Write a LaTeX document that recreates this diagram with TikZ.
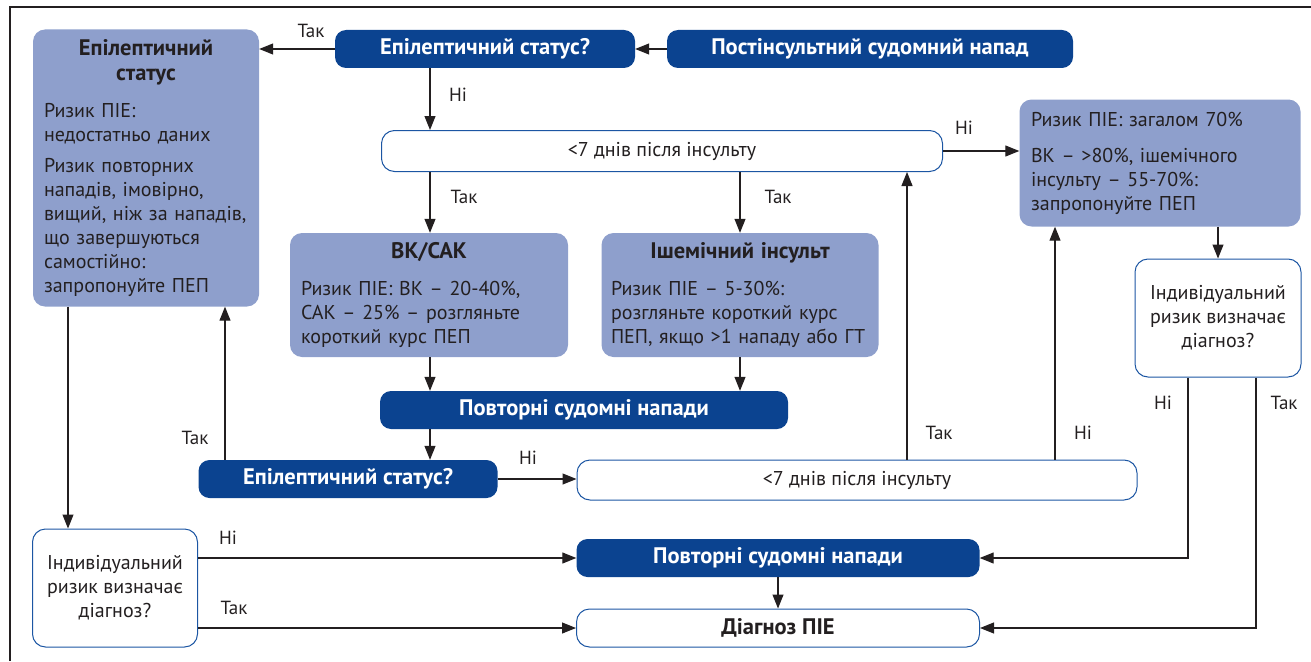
\documentclass[tikz,border=0pt]{standalone}
\usepackage{fontspec}
\setmainfont{PT Sans}
\usetikzlibrary{arrows.meta}
\definecolor{pieblue}{HTML}{0B4390}
\definecolor{pielight}{HTML}{8E9FCC}
\definecolor{pieline}{HTML}{1C56A3}
\definecolor{pieink}{HTML}{231F20}
\newcommand{\bodyfont}{\fontsize{20}{24}\selectfont}
\newcommand{\headfont}{\bfseries\fontsize{22.5}{25}\selectfont}
\tikzset{
  dk/.style={fill=pieblue, rounded corners=11pt, text=white, font=\headfont, align=center, minimum height=38pt, inner sep=0pt},
  lt/.style={fill=pielight, rounded corners=12pt, text=pieink, font=\bodyfont, align=left, inner sep=0pt},
  wt/.style={draw=pieline, line width=1pt, fill=white, rounded corners=13pt, text=pieink, font=\bodyfont, align=center, inner sep=0pt},
  arr/.style={-{Triangle[length=14pt,width=11pt]}, line width=1.1pt, color=pieink},
  lbl/.style={font=\fontsize{19}{24}\selectfont, text=pieink, inner sep=0pt},
}
\begin{document}
\begin{tikzpicture}[x=1pt,y=-1pt]
  \useasboundingbox (0,0) rectangle (1311,661);
  % frame, only top and left edges show
  \draw[line width=1.2pt, pieink] (10,661) -- (10,7) -- (1311,7);
  % columns where the arrows run
  \coordinate (xa) at (68,0);
  \coordinate (xb) at (225,0);
  \coordinate (xc) at (430,0);
  \coordinate (xd) at (907,0);
  \coordinate (xe) at (1055,0);
  \coordinate (xf) at (1188,0);
  \coordinate (xg) at (1256,0);
  % top row
  \node[dk, minimum width=406pt] (post) at (870,49) {Постінсультний судомний напад};
  \node[dk, minimum width=300pt] (ep1) at (485,49) {Епілептичний статус?};
  \node[lt, text width=204pt, minimum width=226pt, minimum height=277pt] (epbox) at (146,168) {%
    {\centering\headfont Епілептичний\\статус\par}\vspace{13pt}
    Ризик ПІЕ:\\недостатньо даних\par\vspace{7pt}
    Ризик повторних\\нападів, імовірно,\\вищий, ніж за нападів,\\що завершуються\\самостійно:\\запропонуйте ПЕП};
  \node[wt, minimum width=561pt, minimum height=41pt] (day1) at (662,151) {<7 днів після інсульту};
  \node[lt, text width=258pt, minimum width=281pt, minimum height=127pt] (risk) at (1160,163) {%
    Ризик ПІЕ: загалом 70\%\par\vspace{12pt}
    ВК – >80\%, ішемічного\\інсульту – 55-70\%:\\запропонуйте ПЕП};
  \node[wt, minimum width=166pt, minimum height=118pt] (ind2) at (1218,318) {Індивідуальний\\ризик визначає\\діагноз?};
  % middle
  \node[lt, text width=256pt, minimum width=278pt, minimum height=124pt] (bksak) at (429,295) {%
    {\centering\headfont ВК/САК\par}\vspace{13pt}
    Ризик ПІЕ: ВК – 20-40\%,\\САК – 25\% – розгляньте\\короткий курс ПЕП};
  \node[lt, text width=258pt, minimum width=277pt, minimum height=124pt] (isch) at (740,295) {%
    {\centering\headfont Ішемічний інсульт\par}\vspace{13pt}
    Ризик ПІЕ – 5-30\%:\\розгляньте короткий курс\\ПЕП, якщо >1 нападу або ГТ};
  \node[dk, minimum width=408pt] (rep1) at (584,410) {Повторні судомні напади};
  \node[dk, minimum width=299pt] (ep2) at (348,479) {Епілептичний статус?};
  \node[wt, minimum width=560pt, minimum height=40pt] (day2) at (857,480) {<7 днів після інсульту};
  % bottom
  \node[wt, minimum width=165pt, minimum height=118pt] (ind1) at (115,588) {Індивідуальний\\ризик визначає\\діагноз?};
  \node[dk, minimum width=403pt] (rep2) at (778,558) {Повторні судомні напади};
  \node[wt, minimum width=403pt, minimum height=38pt, font=\headfont] (diag) at (778,628) {Діагноз ПІЕ};
  % connectors
  \draw[arr] (post) -- (ep1);
  \draw[arr] (ep1) -- (epbox.east |- ep1);
  \draw[arr] (ep1.south -| xc) -- (day1.north -| xc);
  \draw[arr] (day1) -- (risk.west |- day1);
  \draw[arr] (day1.south -| xc) -- (bksak.north -| xc);
  \draw[arr] (day1.south -| isch) -- (isch);
  \draw[arr] (risk.south -| ind2) -- (ind2);
  \draw[arr] (bksak.south -| xc) -- (rep1.north -| xc);
  \draw[arr] (isch) -- (rep1.north -| isch);
  \draw[arr] (rep1.south -| xc) -- (ep2.north -| xc);
  \draw[arr] (ep2.north -| xb) -- (epbox.south -| xb);
  \draw[arr] (ep2) -- (day2.west |- ep2);
  \draw[arr] (day2.north -| xd) -- (day1.south -| xd);
  \draw[arr] (day2.north -| xe) -- (risk.south -| xe);
  \draw[arr] (epbox.south -| xa) -- (ind1.north -| xa);
  \draw[arr] (ind1.east |- rep2) -- (rep2);
  \draw[arr] (ind1.east |- diag) -- (diag);
  \draw[arr] (rep2) -- (diag);
  \draw[arr] (ind2.south -| xf) |- (rep2);
  \draw[arr] (ind2.south -| xg) |- (diag);
  % branch labels
  \node[lbl] (l1) at (311,31) {Так};
  \node[lbl] (l2) at (458,95) {Ні};
  \node[lbl] (l3) at (964,128) {Ні};
  \node[lbl] (l4) at (464,197) {Так};
  \node[lbl] (l5) at (778,197) {Так};
  \node[lbl] (l6) at (195,438) {Так};
  \node[lbl] (l7) at (528,458) {Ні};
  \node[lbl] (l8) at (939,433) {Так};
  \node[lbl] (l9) at (1083,433) {Ні};
  \node[lbl] (l10) at (1163,403) {Ні};
  \node[lbl] (l11) at (1284,403) {Так};
  \node[lbl] (l12) at (228,538) {Ні};
  \node[lbl] (l13) at (234,608) {Так};
\end{tikzpicture}
\end{document}
